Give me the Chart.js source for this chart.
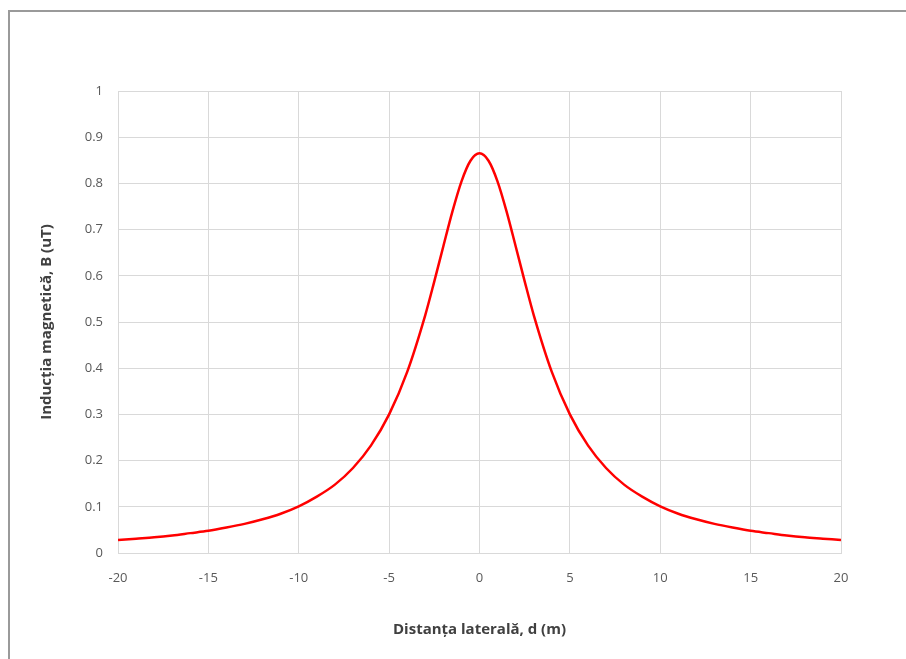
<!DOCTYPE html>
<html>
<head>
<meta charset="utf-8">
<script src="https://cdn.jsdelivr.net/npm/chart.js@4/dist/chart.umd.min.js"></script>
<style>
  html, body { margin: 0; padding: 0; background: #fff; overflow: hidden; }
  #wrap { position: relative; width: 906px; height: 659px; overflow: hidden; }
  #frame { position: absolute; left: 8px; top: 10px; width: 920px; height: 680px;
           border-top: 2px solid #9a9a9a; border-left: 2px solid #9a9a9a; }
  canvas { position: absolute; left: 0; top: 0; }
</style>
</head>
<body>
<div id="wrap">
  <div id="frame"></div>
  <canvas id="chart1" width="906" height="659"></canvas>
</div>
<script>
// distanta laterala, d (m)
const distances = [-20, -19, -18, -17, -16, -15, -14, -13, -12, -11, -10, -9, -8, -7, -6, -5, -4,
  -3, -2.5, -2, -1.5, -1, -0.5, 0, 0.5, 1, 1.5, 2, 2.5, 3,
  4, 5, 6, 7, 8, 9, 10, 11, 12, 13, 14, 15, 16, 17, 18, 19, 20];
// inductia magnetica, B (uT)
const induction = [0.028, 0.031, 0.034, 0.038, 0.043, 0.048, 0.055, 0.063, 0.073, 0.085, 0.101, 0.122, 0.148, 0.184, 0.233, 0.300, 0.392,
  0.515, 0.588, 0.664, 0.739, 0.804, 0.849, 0.865, 0.849, 0.804, 0.739, 0.664, 0.588, 0.515,
  0.392, 0.300, 0.233, 0.184, 0.148, 0.122, 0.101, 0.085, 0.073, 0.063, 0.055, 0.048, 0.043, 0.038, 0.034, 0.031, 0.028];

const points = distances.map((d, i) => ({ x: d, y: induction[i] }));

const ctx = document.getElementById("chart1");
new Chart(ctx, {
  type: "line",
  data: {
    datasets: [
      {
        data: points,
        borderColor: "#ff0000",
        borderWidth: 2.5,
        pointRadius: 0,
        cubicInterpolationMode: "monotone",
        fill: false,
      },
    ],
  },
  options: {
    responsive: false,
    animation: false,
    layout: { padding: { left: 0, top: 91, right: 65, bottom: 0 } },
    plugins: { legend: { display: false }, tooltip: { enabled: false } },
    scales: {
      x: {
        type: "linear",
        min: -20,
        max: 20,
        afterFit: (s) => { s.height = 106; },
        ticks: { stepSize: 5, color: "#595959", font: { family: "Open Sans", size: 13 }, padding: 17 },
        grid: { color: "#d9d9d9", drawTicks: false },
        border: { color: "#d9d9d9" },
        title: {
          display: true,
          text: "Distanța laterală, d (m)",
          color: "#404040",
          font: { family: "Open Sans", size: 15, weight: "bold" },
          padding: { bottom: 20 },
        },
      },
      y: {
        min: 0,
        max: 1,
        afterFit: (s) => { s.width = 118; },
        ticks: {
          stepSize: 0.1,
          color: "#595959",
          font: { family: "Open Sans", size: 13 },
          padding: 15,
          callback: (v) => String(Math.round(v * 10) / 10),
        },
        grid: { color: "#d9d9d9", drawTicks: false },
        border: { color: "#d9d9d9" },
        title: {
          display: true,
          text: "Inducția magnetică, B (uT)",
          color: "#404040",
          font: { family: "Open Sans", size: 15, weight: "bold" },
          padding: { top: 38 },
        },
      },
    },
  },
});
</script>
</body>
</html>
